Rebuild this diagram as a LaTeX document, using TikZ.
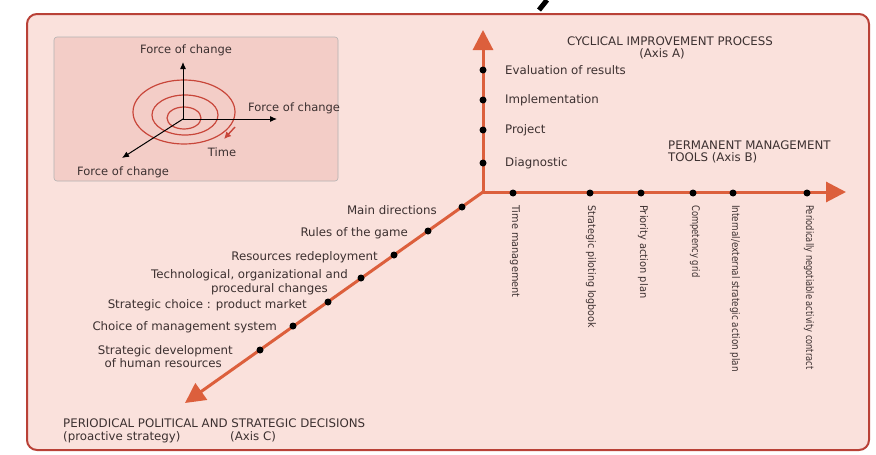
\documentclass[tikz,border=0pt]{standalone}
\usepackage{fontspec}
\setmainfont{DejaVu Sans}
\usetikzlibrary{arrows.meta}
\definecolor{bgpink}{RGB}{250,225,220}
\definecolor{insetpink}{RGB}{243,205,199}
\definecolor{framered}{RGB}{185,65,55}
\definecolor{axisred}{RGB}{220,95,60}
\definecolor{txt}{RGB}{60,48,48}
\definecolor{ringred}{RGB}{200,70,58}
\newcommand{\sq}[2]{\scalebox{#1}[1]{#2}}
\begin{document}
\begin{tikzpicture}[x=1pt,y=-1pt,
  lbl/.style={font=\fontsize{11.8}{13}\selectfont, text=txt, inner sep=0pt},
  vlbl/.style={font=\fontsize{10.5}{12}\selectfont, text=txt, inner sep=0pt, rotate=-90, anchor=west},
  dot/.style={circle, fill=black, minimum size=7pt, inner sep=0pt},
  axis/.style={draw=axisred, line width=3pt, -{Triangle[length=20pt,width=20pt]}},
  smallaxis/.style={draw=black, line width=1pt, -{Latex[length=7pt,width=6pt]}},
  ring/.style={draw=ringred, line width=1.2pt}
]
\useasboundingbox (0,0) rectangle (876,455);
% stray stroke above frame
\draw[line width=5pt, black] (547,0) -- (539,10);
% frame
\draw[framered, line width=2pt, fill=bgpink, rounded corners=10pt] (27,14) rectangle (869,450);
% inset
\draw[draw=gray!60, line width=0.6pt, fill=insetpink, rounded corners=3pt] (54,37) rectangle (338,181);
\coordinate (io) at (183,119);
\coordinate (iu) at (183,62);
\coordinate (ir) at (277,119);
\coordinate (idl) at (122,158);
\draw[ring] (184,112) ellipse [x radius=51, y radius=32];
\draw[ring] (185,115) ellipse [x radius=33, y radius=20];
\draw[ring] (184,118) ellipse [x radius=17, y radius=11];
\draw[smallaxis] (io) -- (iu);
\draw[smallaxis] (io) -- (ir);
\draw[smallaxis] (io) -- (idl);
\coordinate (ta) at (235,127);
\coordinate (tb) at (224,139);
\draw[ring, line width=1.4pt, -{Latex[length=7pt,width=7pt]}] (ta) -- (tb);
\node[lbl, font=\fontsize{11.5}{13}\selectfont] (fu) at (186,50) {Force of change};
\node[lbl, font=\fontsize{11.5}{13}\selectfont, anchor=west] (fr) at (248,108) {Force of change};
\node[lbl, font=\fontsize{11.5}{13}\selectfont, anchor=west] (fdl) at (77,172) {Force of change};
\node[lbl, font=\fontsize{11.5}{13}\selectfont] (time) at (222,152) {Time};
% main axes
\coordinate (O) at (483,192);
\coordinate (A) at (483,30);
\coordinate (B) at (846,192);
\coordinate (C) at (185,403);
\draw[axis] (O) -- (A);
\draw[axis] (O) -- (B);
\draw[axis] (O) -- (C);
% axis A
\node[lbl] (ta1) at (670,41) {CYCLICAL IMPROVEMENT PROCESS};
\node[lbl] (ta2) at (662,54) {(Axis A)};
\node[dot] (a1) at (483,70) {};
\node[dot] (a2) at (483,100) {};
\node[dot] (a3) at (483,130) {};
\node[dot] (a4) at (483,163) {};
\node[lbl, anchor=west] (la1) at (505,70) {Evaluation of results};
\node[lbl, anchor=west] (la2) at (505,100) {Implementation};
\node[lbl, anchor=west] (la3) at (505,130) {Project};
\node[lbl, anchor=west] (la4) at (505,163) {Diagnostic};
% axis B
\node[lbl, anchor=west] (tb1) at (668,145) {PERMANENT MANAGEMENT};
\node[lbl, anchor=west] (tb2) at (668,158) {TOOLS (Axis B)};
\node[dot] (b1) at (513,193) {};
\node[dot] (b2) at (590,193) {};
\node[dot] (b3) at (641,193) {};
\node[dot] (b4) at (693,193) {};
\node[dot] (b5) at (733,193) {};
\node[dot] (b6) at (807,193) {};
\node[vlbl] (lb1) at (515,205) {\sq{0.93}{Time management}};
\node[vlbl] (lb2) at (591,205) {\sq{0.91}{Strategic piloting logbook}};
\node[vlbl] (lb3) at (643,205) {\sq{0.94}{Priority action plan}};
\node[vlbl] (lb4) at (695,205) {\sq{0.8}{Competency grid}};
\node[vlbl] (lb5) at (735,205) {\sq{0.84}{Internal/external strategic action plan}};
\node[vlbl] (lb6) at (809,205) {\sq{0.79}{Periodically negotiable activity contract}};
% axis C
\node[dot] (c1) at (462,207) {};
\node[dot] (c2) at (428,231) {};
\node[dot] (c3) at (394,255) {};
\node[dot] (c4) at (361,278) {};
\node[dot] (c5) at (328,302) {};
\node[dot] (c6) at (293,326) {};
\node[dot] (c7) at (260,350) {};
\node[lbl, anchor=east] (lc1) at (437,210) {Main directions};
\node[lbl, anchor=east] (lc2) at (408,233) {Rules of the game};
\node[lbl, anchor=east] (lc3) at (378,257) {Resources redeployment};
\node[lbl, anchor=east] (lc4a) at (348,275) {Technological, organizational and};
\node[lbl, anchor=east] (lc4b) at (328,289) {procedural changes};
\node[lbl, anchor=east] (lc5) at (307,305) {Strategic choice : product market};
\node[lbl, anchor=east] (lc6) at (277,327) {Choice of management system};
\node[lbl, anchor=east] (lc7a) at (233,351) {Strategic development};
\node[lbl, anchor=east] (lc7b) at (222,363) {of human resources};
\node[lbl, anchor=west] (tc1) at (63,423) {PERIODICAL POLITICAL AND STRATEGIC DECISIONS};
\node[lbl, anchor=west] (tc2) at (63,437) {(proactive strategy)};
\node[lbl, anchor=west] (tc3) at (230,437) {(Axis C)};
\end{tikzpicture}
\end{document}
